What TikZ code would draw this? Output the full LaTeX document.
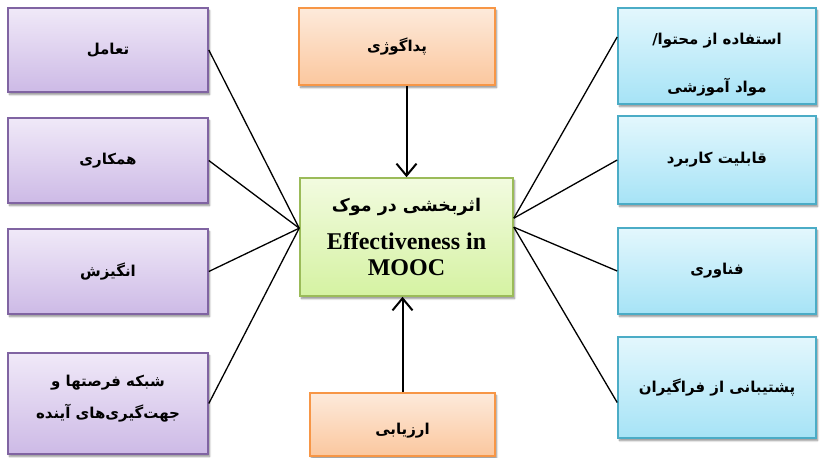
\documentclass[tikz,border=0pt]{standalone}
\usepackage{fontspec}
\setmainfont{Liberation Serif}
\newfontfamily\fa[Script=Arabic]{DejaVu Sans}
\TeXXeTstate=1
\usetikzlibrary{arrows.meta,calc,shadows.blur}

\definecolor{purpleEdge}{HTML}{8064A2}
\definecolor{purpleTop}{HTML}{F0E9F8}
\definecolor{purpleBot}{HTML}{CDBAE6}
\definecolor{orangeEdge}{HTML}{F79646}
\definecolor{orangeTop}{HTML}{FDEADB}
\definecolor{orangeBot}{HTML}{FBC79E}
\definecolor{greenEdge}{HTML}{9BBB59}
\definecolor{greenTop}{HTML}{F2FBE0}
\definecolor{greenBot}{HTML}{D5F2A2}
\definecolor{blueEdge}{HTML}{4BACC6}
\definecolor{blueTop}{HTML}{E3F7FD}
\definecolor{blueBot}{HTML}{A6E3F6}

\newcommand{\rtl}[1]{{\fa\bfseries\beginR #1\endR}}

\tikzset{
  box/.style={rectangle, line width=1.6pt, align=center,
    font=\fontsize{15}{20}\selectfont,
    blur shadow={shadow xshift=1.5pt, shadow yshift=-2.5pt,
      shadow blur steps=6, shadow opacity=45}},
  purplebox/.style={box, draw=purpleEdge, top color=purpleTop, bottom color=purpleBot},
  orangebox/.style={box, draw=orangeEdge, top color=orangeTop, bottom color=orangeBot},
  greenbox/.style={box, draw=greenEdge, top color=greenTop, bottom color=greenBot},
  bluebox/.style={box, draw=blueEdge, top color=blueTop, bottom color=blueBot},
  link/.style={line width=1.3pt, black},
  arr/.style={line width=2pt, black, -{Straight Barb[length=12pt, width=20pt, line width=2pt]}}
}

\begin{document}
\begin{tikzpicture}[x=1pt, y=-1pt]
  \useasboundingbox (0,0) rectangle (820,458);

  % left column
  \node[purplebox, minimum width=200pt, minimum height=84pt] (t1) at (108,50) {\rtl{تعامل}};
  \node[purplebox, minimum width=200pt, minimum height=85pt] (t2) at (108,160.5) {\rtl{همکاری}};
  \node[purplebox, minimum width=200pt, minimum height=85pt] (t3) at (108,271.5) {\rtl{انگیزش}};
  \node[purplebox, minimum width=200pt, minimum height=101pt, font=\fontsize{15}{32}\selectfont] (t4) at (108,403.5)
    {\rtl{شبکه فرصتها و}\\ \rtl{جهت‌گیری‌های آینده}\rule[-14pt]{0pt}{14pt}};

  % centre column
  \node[orangebox, minimum width=196pt, minimum height=77pt] (p) at (397,46.5) {\rtl{پداگوژی}};
  \node[greenbox, minimum width=213pt, minimum height=118pt, font=\fontsize{17.5}{27}\selectfont] (c) at (406.5,237)
    {\rtl{اثربخشی در موک}\\[11pt]
     {\fontsize{24}{27}\selectfont\bfseries Effectiveness in}\\[-1pt]
     {\fontsize{24}{27}\selectfont\bfseries MOOC}};
  \node[orangebox, minimum width=185pt, minimum height=63pt] (a) at (402.5,424.5) {\rule{0pt}{24pt}\rtl{ارزیابی}};

  % right column
  \node[bluebox, minimum width=198pt, minimum height=96pt, font=\fontsize{15}{48}\selectfont] (r1) at (717,56)
    {\rule{0pt}{28pt}\rtl{استفاده از محتوا/}\\ \rtl{مواد آموزشی}};
  \node[bluebox, minimum width=198pt, minimum height=88pt] (r2) at (717,160) {\rtl{قابلیت کاربرد}};
  \node[bluebox, minimum width=198pt, minimum height=86pt] (r3) at (717,271) {\rtl{فناوری}};
  \node[bluebox, minimum width=198pt, minimum height=101pt] (r4) at (717,387.5) {\rtl{پشتیبانی از فراگیران}};

  % meeting points on the sides of the centre box
  \coordinate (cl) at ($(c.north west)+(0,51)$);
  \coordinate (cru) at ($(c.north east)+(0,41)$);
  \coordinate (crl) at ($(c.north east)+(0,50)$);

  % connectors
  \draw[link] (t1.east) -- (cl);
  \draw[link] (t2.east) -- (cl);
  \draw[link] (t3.east) -- (cl);
  \draw[link] (t4.east) -- (cl);
  \draw[link] ($(r1.west)+(0,-19)$) -- (cru);
  \draw[link] (r2.west) -- (cru);
  \draw[link] (r3.west) -- (crl);
  \draw[link] ($(r4.west)+(0,15)$) -- (crl);

  \draw[arr] (p.south -| c.north) -- (c.north);
  \draw[arr] (a.north) -- (a.north |- c.south);
\end{tikzpicture}
\end{document}
